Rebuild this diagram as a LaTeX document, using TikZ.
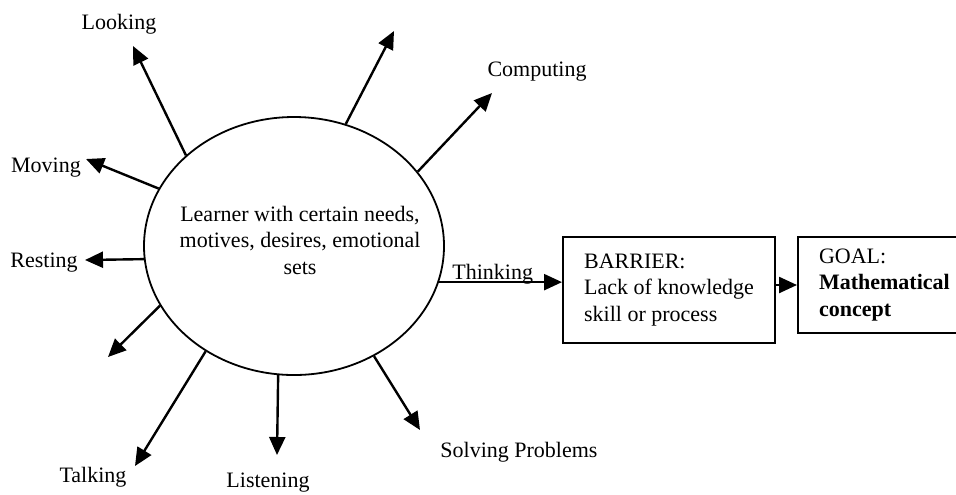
\documentclass[tikz,border=0pt]{standalone}
\usepackage{fontspec}
\setmainfont{Liberation Serif}
\usetikzlibrary{arrows.meta,shapes.geometric}

\begin{document}
\begin{tikzpicture}[x=0.5pt,y=-0.5pt,font=\fontsize{11}{13.25}\selectfont,
  act/.style={-{Triangle[length=9pt,width=8pt]},line width=1.2pt},
  lbl/.style={inner sep=0pt},
  stage/.style={draw,line width=1pt,align=left,anchor=north west}]
\useasboundingbox (0,0) rectangle (956,494);
% the learner and the two boxes
\node[draw,ellipse,line width=0.9pt,minimum width=150pt,minimum height=129pt,inner sep=0pt,
  label={[align=center,inner sep=0pt,xshift=3pt,yshift=3pt]center:Learner with certain needs,\\motives, desires, emotional\\sets}]
  (learner) at (294,246) {};
\node[stage,minimum width=106pt,minimum height=53pt,inner xsep=9pt] (barrier) at (562,236)
  {BARRIER:\\Lack of knowledge\\skill or process};
\node[stage,minimum height=48pt,inner xsep=10.5pt,text width=70pt] (goal) at (797,236)
  {GOAL:\\\textbf{Mathematical}\\\textbf{concept}};
% labels
\node[lbl] (looking) at (119,24.5) {Looking};
\node[lbl] (computing) at (537,72) {Computing};
\node[lbl] (moving) at (46,167.5) {Moving};
\node[lbl] (resting) at (44,262.5) {Resting};
\node[lbl] (talking) at (93,477.5) {Talking};
\node[lbl] (listening) at (268,482.5) {Listening};
\node[lbl] (solving) at (519,452.5) {Solving Problems};
\node[lbl,anchor=west] (thinking) at (452,274) {Thinking};
% free ends of the arrows
\coordinate (lookEnd) at (133,46);
\coordinate (upEnd) at (394,31);
\coordinate (compEnd) at (492,93);
\coordinate (moveEnd) at (86,159);
\coordinate (restEnd) at (85,260);
\coordinate (downEnd) at (108,357);
\coordinate (talkEnd) at (135,466);
\coordinate (listenEnd) at (277,455);
\coordinate (solveEnd) at (420,430);
% arrows
\draw[act] (learner.140) -- (lookEnd);
\draw[act] (learner.67) -- (upEnd);
\draw[act] (learner.31) -- (compEnd);
\draw[act] (learner.157) -- (moveEnd);
\draw[act] (learner.185) -- (restEnd);
\draw[act] (learner.204) -- (downEnd);
\draw[act] (learner.230) -- (talkEnd);
\draw[act] (learner.263) -- (listenEnd);
\draw[act] (learner.306) -- (solveEnd);
\draw[act] (learner.346) -- (learner.346 -| barrier.west);
\draw[act] (barrier.east |- goal.west) -- (goal.west);
\end{tikzpicture}
\end{document}
